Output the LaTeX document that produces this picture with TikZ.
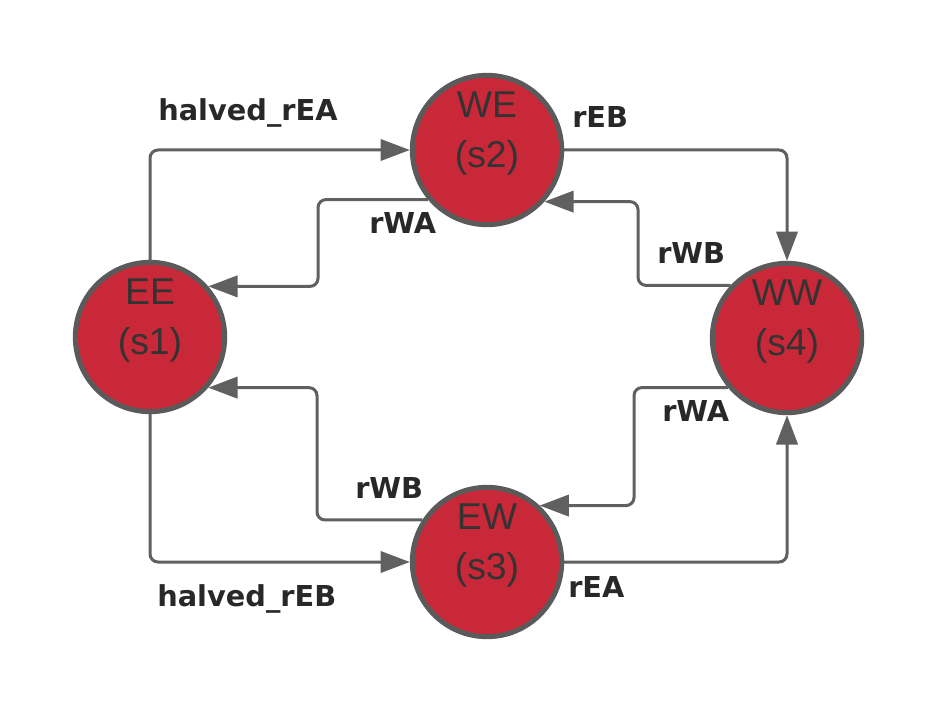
\documentclass[tikz,border=0pt]{standalone}
\usepackage{fontspec}
\setmainfont{Liberation Sans}
\newfontfamily\lblfont{DejaVu Sans}
\usetikzlibrary{arrows.meta}
\definecolor{statered}{RGB}{200,40,56}
\definecolor{rimgray}{RGB}{90,90,90}
\definecolor{linegray}{RGB}{96,96,96}
\definecolor{txtgray}{RGB}{51,51,51}
\definecolor{lblgray}{RGB}{40,40,40}
\begin{document}
\begin{tikzpicture}[x=0.75pt,y=-0.75pt,
  state/.style={circle, draw=rimgray, line width=3.75pt, fill=statered,
    minimum size=112pt, inner sep=0pt},
  stext/.style={text=txtgray, font=\fontsize{28}{37.5}\selectfont, align=center, inner sep=0pt},
  conn/.style={draw=linegray, line width=2.25pt, rounded corners=6pt,
    -{Triangle[length=22pt,width=16pt]}},
  lbl/.style={font=\lblfont\bfseries\fontsize{21.6}{26}\selectfont, text=lblgray,
    anchor=base west, inner sep=0pt}]
\useasboundingbox (0,0) rectangle (938,713);

\node[state, label={[stext,yshift=12.5pt]center:{EE\\(s1)}}] (EE) at (150,337) {};
\node[state, label={[stext,yshift=12.5pt]center:{WE\\(s2)}}] (WE) at (487,150) {};
\node[state, label={[stext,yshift=12.5pt]center:{EW\\(s3)}}] (EW) at (487,562) {};
\node[state, label={[stext,yshift=12.5pt]center:{WW\\(s4)}}] (WW) at (787,338) {};

\coordinate (c1) at (318,243);
\coordinate (c2) at (638,243);
\coordinate (c3) at (317,450);
\coordinate (c4) at (634,450);

% outer connectors
\draw[conn] (EE.north) |- (WE.west);
\draw[conn] (WE.east) -| (WW.north);
\draw[conn] (EE.south) |- (EW.west);
\draw[conn] (EW.east) -| (WW.south);

% inner connectors
\draw[conn] (WE.220.5) -| (c1) |- (EE.41.5);
\draw[conn] (WW.137.5) -| (c2) |- (WE.-42.5);
\draw[conn] (EW.147) -| (c3) |- (EE.-41.5);
\draw[conn] (WW.220.5) -| (c4) |- (EW.47.7);

% labels
\node[lbl] (l1) at (158,121) {halved\_rEA};
\node[lbl] (l2) at (572,128) {rEB};
\node[lbl] (l3) at (369,233) {rWA};
\node[lbl] (l4) at (657,263) {rWB};
\node[lbl] (l5) at (662,421) {rWA};
\node[lbl] (l6) at (355,498) {rWB};
\node[lbl] (l7) at (157,606) {halved\_rEB};
\node[lbl] (l8) at (568,597) {rEA};
\end{tikzpicture}
\end{document}
